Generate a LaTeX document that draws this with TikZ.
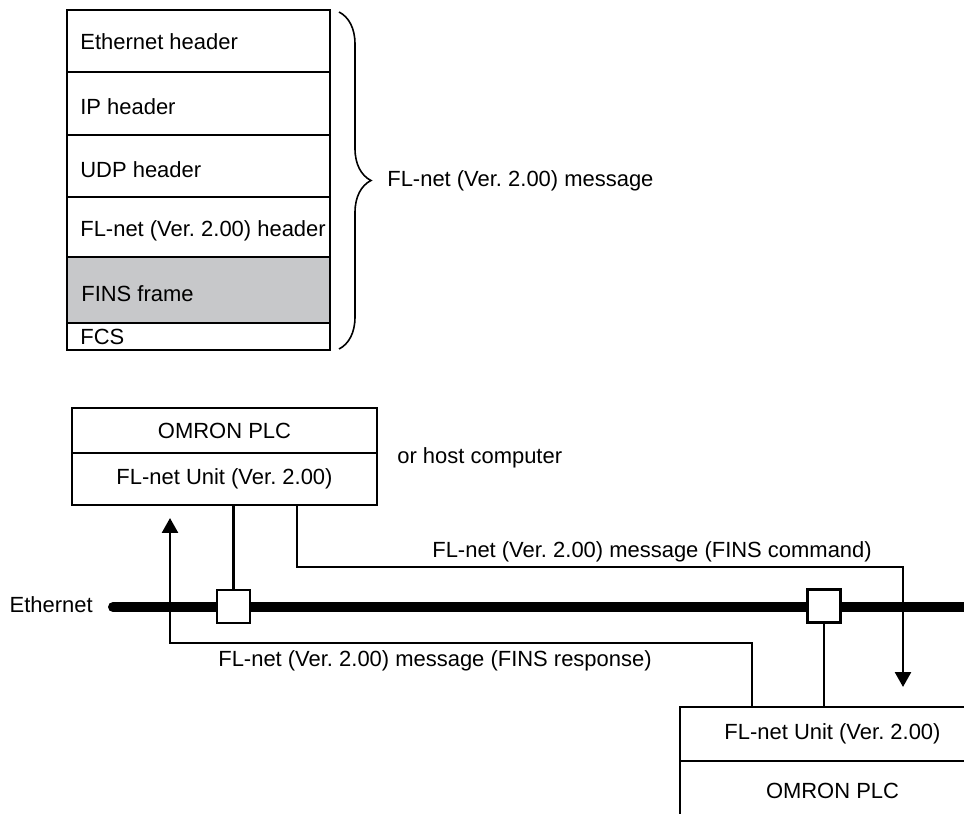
\documentclass[tikz,border=0pt]{standalone}
\usepackage{fontspec}
\setmainfont{Liberation Sans}
\usepackage{tikz}
\usetikzlibrary{arrows.meta, positioning, decorations.pathreplacing, calc}
\definecolor{finsgray}{RGB}{199,200,202}
\frenchspacing

\begin{document}
\begin{tikzpicture}[x=0.02cm, y=-0.02cm,
    every node/.style={font=\fontsize{12.5}{14}\selectfont, inner sep=0pt},
    layer/.style={draw, line width=1.2pt},
    unitbox/.style={draw, line width=1.6pt, minimum width=6.1cm, outer sep=0pt},
    tap/.style={draw, fill=white, line width=1.5pt, minimum size=0.66cm},
    link/.style={line width=1.5pt},
    msgline/.style={link, -{Triangle[length=0.3cm, width=0.32cm]}}]
  \useasboundingbox (0,0) rectangle (964,814);

  % Estrutura do quadro
  \fill[finsgray] (67,257) rectangle (330,323);
  \draw[layer] (67,10) rectangle (330,350);
  \foreach \y in {72,135,197,257,323}
    \draw[layer] (67,\y) -- (330,\y);
  \node[anchor=base west] (ethHdr) at (80,50) {Ethernet header};
  \node[anchor=base west] (ipHdr) at (80,115) {IP header};
  \node[anchor=base west] (udpHdr) at (80,178) {UDP header};
  \node[anchor=base west] (flHdr) at (80,237) {FL-net (Ver. 2.00) header};
  \node[anchor=base west] (finsFrame) at (81,302) {FINS frame};
  \node[anchor=base west] (fcsField) at (80,344) {FCS};
  \draw[decorate, decoration={brace, amplitude=0.64cm}, line width=0.9pt]
    (339,12) -- (339,349);
  \node[anchor=base west] (msgLabel) at (387,187) {FL-net (Ver. 2.00) message};

  % Unidades e rede
  \node[unitbox, minimum height=0.9cm] (plcA) at (224.5,430.5) {OMRON PLC};
  \node[unitbox, minimum height=1.04cm, below=0pt of plcA] (unitA) {FL-net Unit (Ver. 2.00)};
  \node[anchor=base west] (hostLabel) at (397,463) {or host computer};
  \node[unitbox, minimum height=1.08cm] (unitB) at (832.5,734) {FL-net Unit (Ver. 2.00)};
  \node[unitbox, minimum height=1.18cm, below=0pt of unitB] (plcB) {OMRON PLC};

  \node[anchor=base east] (ethLabel) at (93,612) {Ethernet};
  \coordinate (busStart) at (113,607);
  \coordinate (busEnd) at (975,607);
  \draw[line width=0.2cm, line cap=round] (busStart) -- (busEnd);
  \node[tap] (tapA) at (233.5,606.5) {};
  \node[tap] (tapB) at (824,606) {};
  \draw[link] (unitA.south -| tapA) -- (tapA.north);
  \draw[link] (tapB.south) -- (tapB |- unitB.north);

  % Mensagens
  \coordinate (cmdTip) at (903,687);
  \draw[msgline] ($(unitA.south west)+(225,0)$) -- ++(0,62) -| (cmdTip);
  \node[anchor=base west] (cmdLabel) at (432,557) {FL-net (Ver. 2.00) message (FINS command)};
  \coordinate (rspTip) at (170,518);
  \draw[msgline] ($(unitB.north west)+(72,0)$) -- ++(0,-64) -| (rspTip);
  \node[anchor=base west] (rspLabel) at (218,666) {FL-net (Ver. 2.00) message (FINS response)};
\end{tikzpicture}
\end{document}
